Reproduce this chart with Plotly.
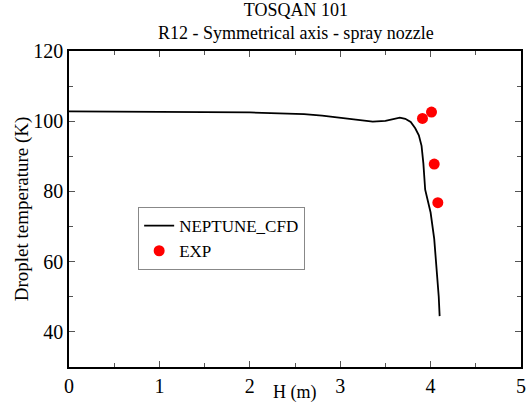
import plotly.graph_objects as go

# NEPTUNE_CFD curve
cfd_h = [0.0, 0.5, 1.0, 1.5, 2.0, 2.3, 2.6, 2.8, 3.0, 3.2, 3.36, 3.5, 3.6, 3.66, 3.72, 3.78, 3.83, 3.87, 3.90, 3.92, 3.94, 3.97, 4.00, 4.04, 4.07, 4.09, 4.10]
cfd_t = [102.8, 102.8, 102.7, 102.6, 102.5, 102.3, 102.0, 101.6, 101.0, 100.2, 99.9, 100.1, 100.7, 101.0, 100.7, 99.8, 98.0, 96.0, 93.0, 88.0, 80.5, 77.5, 74.0, 66.5, 57.0, 50.0, 44.5]

# Experimental points
exp_h = [3.91, 4.01, 4.04, 4.08]
exp_t = [100.8, 102.6, 87.8, 76.8]

serif = "Liberation Serif"

fig = go.Figure()
fig.add_trace(go.Scatter(x=cfd_h, y=cfd_t, mode="lines", name="NEPTUNE_CFD",
                         line=dict(color="black", width=1.8)))
fig.add_trace(go.Scatter(x=exp_h, y=exp_t, mode="markers", name="EXP",
                         marker=dict(color="red", size=11)))

axis_common = dict(showline=True, linecolor="black", linewidth=1.5, mirror="allticks",
                   ticks="inside", ticklen=6, tickcolor="#555", tickwidth=1,
                   showgrid=False, zeroline=False, automargin=False,
                   tickfont=dict(family=serif, size=20, color="black"))

fig.update_xaxes(range=[0, 5], dtick=1, tick0=0,
                 minor=dict(ticks="inside", ticklen=4, dtick=0.5, tickcolor="#555"),
                 **axis_common)
fig.update_yaxes(range=[30, 120], dtick=20, tick0=0,
                 minor=dict(ticks="inside", ticklen=4, dtick=10, tickcolor="#555"),
                 title=dict(text="Droplet temperature (K)", font=dict(family=serif, size=19, color="black"), standoff=0),
                 **axis_common)

fig.add_annotation(text="H (m)", xref="paper", yref="paper", x=0.5, y=-0.082,
                   xanchor="center", yanchor="middle", showarrow=False,
                   font=dict(family=serif, size=18, color="black"))

fig.update_layout(
    width=526, height=412,
    margin=dict(l=69, r=5, t=51, b=45),
    paper_bgcolor="white", plot_bgcolor="white",
    font=dict(family=serif, color="black"),
    title=dict(text="TOSQAN 101<br>R12 - Symmetrical axis - spray nozzle",
               font=dict(family=serif, size=18, color="black"),
               x=0.5625, xanchor="center", yref="container", y=0.962, yanchor="middle"),
    legend=dict(x=0.153, y=0.506, xanchor="left", yanchor="top",
                bgcolor="white", bordercolor="#888", borderwidth=1,
                font=dict(family=serif, size=17, color="black"),
                itemwidth=30, tracegroupgap=0),
    showlegend=True,
)

fig.write_html("out.html")
